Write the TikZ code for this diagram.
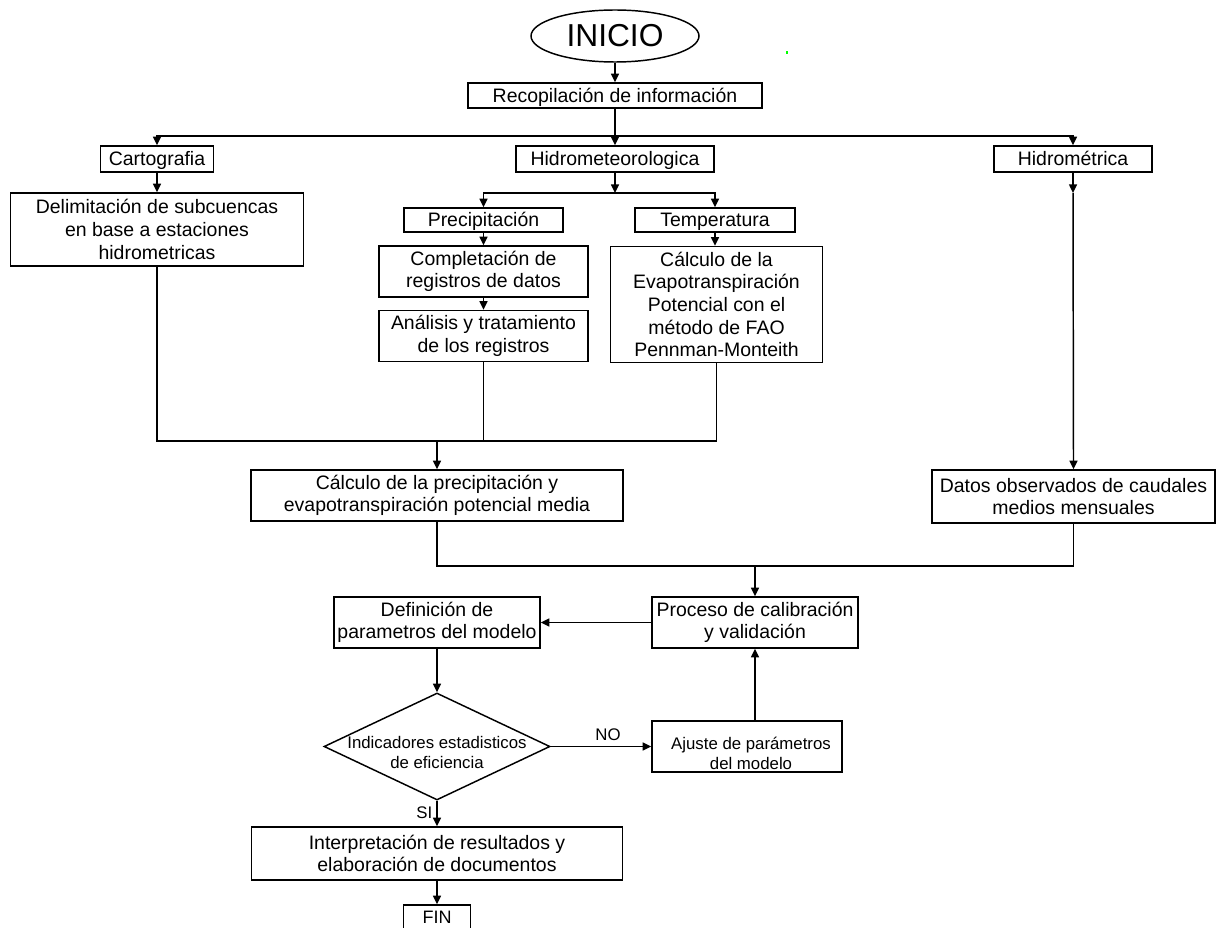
\documentclass[tikz,border=0pt]{standalone}
\usepackage{fontspec}
\setmainfont{Liberation Sans}
\usetikzlibrary{arrows.meta,shapes.geometric}
\begin{document}
\begin{tikzpicture}[x=0.75pt,y=-0.75pt,
  line width=1.1pt,
  box/.style={draw, line width=1.1pt, align=center, inner sep=0pt, font=\fontsize{14.6}{17}\selectfont},
  one/.style={text height=12pt, text depth=1.5pt},
  small/.style={align=center, inner sep=0pt, font=\fontsize{12.6}{15}\selectfont},
  arr/.style={-{Triangle[length=6.5pt,width=6pt]}}]
\useasboundingbox (0,0) rectangle (1226,927);

% nodes
\node[draw, ellipse, line width=1.1pt, minimum width=126pt, minimum height=39pt, inner sep=0pt,
      font=\fontsize{23.8}{28}\selectfont] (ini) at (615,36) {INICIO};
\node[box, one, minimum width=220.5pt, minimum height=18.75pt] (rec) at (615,95.5) {Recopilación de información};
\node[box, one, minimum width=84.75pt, minimum height=19.5pt] (cart) at (157,159) {Cartografia};
\node[box, one, minimum width=148.5pt, minimum height=19.5pt] (hmet) at (615,159) {Hidrometeorologica};
\node[box, one, minimum width=118.5pt, minimum height=19.5pt] (hmtr) at (1073,159) {Hidrométrica};
\node[box, minimum width=219.75pt, minimum height=54.75pt] (delim) at (157,229.5)
  {Delimitación de subcuencas\\en base a estaciones\\hidrometricas};
\node[box, one, minimum width=119.25pt, minimum height=18pt] (prec) at (483.5,220) {Precipitación};
\node[box, one, minimum width=120pt, minimum height=18pt] (temp) at (715,220) {Temperatura};
\node[box, minimum width=156.75pt, minimum height=38.25pt] (comp) at (483.5,271.5)
  {Completación de\\registros de datos};
\node[box, minimum width=156.75pt, minimum height=38.25pt] (anal) at (483.5,336)
  {Análisis y tratamiento\\de los registros};
\node[box, minimum width=159pt, minimum height=87pt] (calcev) at (716.5,304.5)
  {Cálculo de la\\Evapotranspiración\\Potencial con el\\método de FAO\\Pennman-Monteith};
\node[box, minimum width=279pt, minimum height=38.25pt] (cpm) at (437,495.5)
  {Cálculo de la precipitación y\\evapotranspiración potencial media};
\node[box, minimum width=212.25pt, minimum height=39.75pt] (datos) at (1073.5,496.5)
  {Datos observados de caudales\\medios mensuales};
\node[box, minimum width=154.5pt, minimum height=38.25pt] (proc) at (755,622.5)
  {Proceso de calibración\\y validación};
\node[box, minimum width=154.5pt, minimum height=38.25pt] (defi) at (437,622.5)
  {Definición de\\parametros del modelo};
\node[draw, diamond, line width=1.1pt, minimum width=169.5pt, minimum height=80.25pt, inner sep=0pt]
  (dec) at (437,746.5) {};
\node[small] (dect) at (437,752.5) {Indicadores estadisticos\\de eficiencia};
\node[draw, line width=1.1pt, minimum width=142.5pt, minimum height=38.25pt, inner sep=0pt]
  (aju) at (747,746.5) {};
\node[small] (ajut) at (751,753) {Ajuste de parámetros\\del modelo};
\node[box, minimum width=278.25pt, minimum height=39.75pt] (interp) at (437,853.5)
  {Interpretación de resultados y\\elaboración de documentos};
\node[box, minimum width=50.25pt, minimum height=19.5pt, text height=10pt, text depth=2pt,
      font=\fontsize{13.5}{16}\selectfont] (fin) at (437,918) {FIN};

% stray green dot
\fill[green] (786,51) rectangle (788,54);

% connectors
\coordinate (j0) at (615,136);
\coordinate (j3) at (615,193);
\coordinate (j4) at (1073,193);
\coordinate (j1) at (437,441);
\coordinate (j2) at (755,566);

\draw[arr] (ini.south) -- (rec.north);
\draw[arr] (rec.south) -- (hmet.north);
\draw[arr] (j0) -| (cart.north);
\draw[arr] (j0) -| (hmtr.north);
\draw[arr] (cart.south) -- (delim.north);
\draw[arr] (hmet.south) -- (j3);
\draw[arr] (j3) -| (prec.north);
\draw[arr] (j3) -| (temp.north);
\draw[arr] (prec.south) -- (comp.north);
\draw[arr] (comp.south) -- (anal.north);
\draw[arr] (temp.south) -- (temp.south |- calcev.north);
\draw[arr] (hmtr.south) -- (j4);
\draw[arr] (j4) -- (datos.north);

\draw (delim.south) |- (j1) -| (calcev.south);
\draw (anal.south) -- (anal.south |- j1);
\draw[arr] (j1) -- (cpm.north);

\draw (cpm.south) |- (j2) -| (datos.south);
\draw[arr] (j2) -- (proc.north);

\draw[arr] (proc.west) -- (defi.east);
\draw[arr] (defi.south) -- (dec.north);
\draw[arr] (dec.east) -- node[small, pos=0.57, above=4pt] {NO} (aju.west);
\draw[arr] (proc.south |- aju.north) -- (proc.south);
\draw[arr] (dec.south) -- node[small, left=3pt, pos=0.45] {SI} (interp.north);
\draw[arr] (interp.south) -- (fin.north);
\end{tikzpicture}
\end{document}
